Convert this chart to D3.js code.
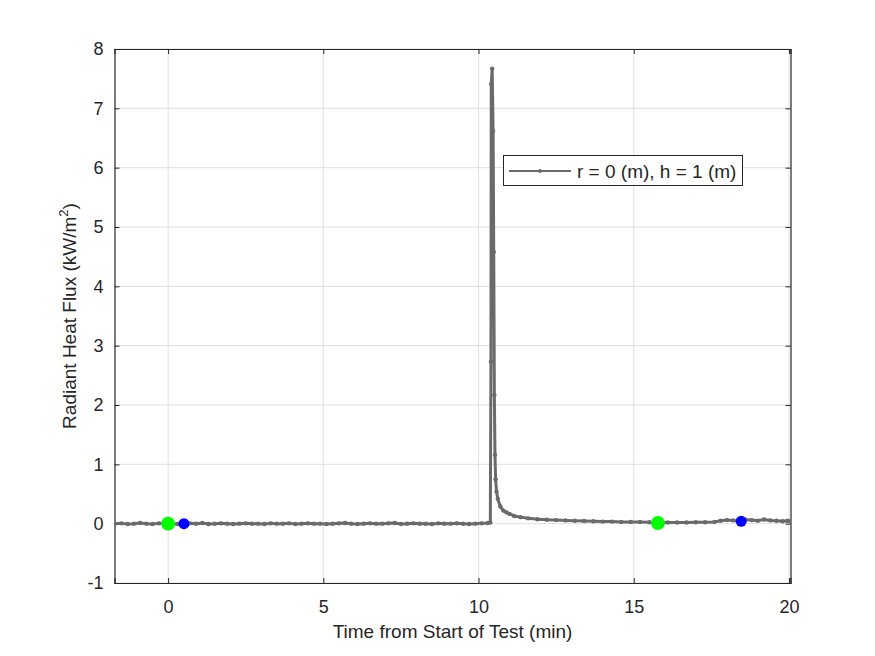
<!DOCTYPE html>
<html><head><meta charset="utf-8">
<script src="https://cdn.jsdelivr.net/npm/d3@7"></script>
<style>body{margin:0;background:#fff}svg{display:block}text{font-family:"Liberation Sans",Arial,Helvetica,sans-serif;fill:#262626}</style>
</head><body>
<svg id="c" width="875" height="656"></svg>
<script>
// Time (min) and radiant heat flux (kW/m^2)
const times = [-1.72,-1.5,-1.3,-1.1,-0.9,-0.7,-0.5,-0.3,-0.1,0.1,0.3,0.5,0.7,0.9,1.1,1.3,1.5,1.7,1.9,2.1,2.3,2.5,2.7,2.9,3.1,3.3,3.5,3.7,3.9,4.1,4.3,4.5,4.7,4.9,5.1,5.3,5.5,5.7,5.9,6.1,6.3,6.5,6.7,6.9,7.1,7.3,7.5,7.7,7.9,8.1,8.3,8.5,8.7,8.9,9.1,9.3,9.5,9.7,9.9,10.1,10.3,10.38,
10.40,10.41,10.44,10.47,10.49,10.51,10.53,10.55,10.58,10.62,10.70,10.80,10.90,11.00,11.15,11.35,11.6,11.9,12.2,12.5,12.8,13.1,13.4,13.7,14.0,14.3,14.6,14.9,15.2,15.5,15.8,16.1,16.4,16.7,17.0,17.3,17.6,17.8,18.0,18.2,18.4,18.6,18.8,19.0,19.2,19.4,19.6,19.8,19.95,20.05];
const flux = [0.00,0.005,-0.005,0.00,0.01,0.00,-0.005,0.005,0.00,0.00,-0.005,0.00,0.005,0.00,0.01,-0.005,0.00,0.005,0.00,-0.005,0.00,0.005,0.00,0.00,-0.005,0.005,0.00,0.00,0.005,-0.005,0.00,0.005,0.00,0.00,-0.005,0.00,0.005,0.01,0.00,-0.005,0.00,0.005,0.00,0.00,0.005,0.01,-0.005,0.00,0.005,0.00,0.00,-0.005,0.005,0.00,0.00,0.005,0.00,-0.005,0.00,0.005,0.01,0.02,
2.73,7.41,7.67,6.62,4.58,2.17,1.16,0.75,0.54,0.42,0.29,0.22,0.19,0.165,0.13,0.11,0.09,0.075,0.065,0.06,0.055,0.05,0.045,0.04,0.035,0.035,0.03,0.03,0.03,0.025,0.02,0.02,0.02,0.02,0.025,0.025,0.03,0.05,0.06,0.055,0.05,0.065,0.06,0.05,0.07,0.055,0.05,0.04,0.05,0.04];
const events = [{t:0, v:0, c:"#00ff00", r:7},{t:0.51, v:0, c:"#0000ff", r:5.5},{t:15.78, v:0.01, c:"#00ff00", r:7},{t:18.46, v:0.04, c:"#0000ff", r:5.5}];
const xTicks = [0,5,10,15,20];
const yTicks = [-1,0,1,2,3,4,5,6,7,8];
const legendLabel = "r = 0 (m), h = 1 (m)";

const svg = d3.select("#c");
const L=114.5, R=790.5, T=49, B=583;
const x = d3.scaleLinear().domain([-1.727,20.05]).range([L,R]);
const y = d3.scaleLinear().domain([-1,8]).range([B,T]);

svg.append("rect").attr("x",L).attr("y",T).attr("width",R-L).attr("height",B-T).attr("fill","#fff");
// grid
const g = svg.append("g");
g.selectAll(".gx").data(xTicks).join("line").attr("x1",d=>x(d)).attr("x2",d=>x(d)).attr("y1",T).attr("y2",B).attr("stroke","#dfdfdf").attr("stroke-width",1);
g.selectAll(".gy").data(yTicks).join("line").attr("y1",d=>y(d)).attr("y2",d=>y(d)).attr("x1",L).attr("x2",R).attr("stroke","#dfdfdf").attr("stroke-width",1);

// axes
const fmt = d => String(d);
const ax = svg.append("g").attr("transform",`translate(0,${B})`).call(d3.axisBottom(x).tickValues(xTicks).tickSize(-5).tickPadding(17).tickFormat(fmt));
const ay = svg.append("g").attr("transform",`translate(${L},0)`).call(d3.axisLeft(y).tickValues(yTicks).tickSize(-5).tickPadding(11).tickFormat(fmt));
const at = svg.append("g").attr("transform",`translate(0,${T})`).call(d3.axisTop(x).tickValues(xTicks).tickSize(-5).tickFormat(""));
const ar = svg.append("g").attr("transform",`translate(${R},0)`).call(d3.axisRight(y).tickValues(yTicks).tickSize(-5).tickFormat(""));
[ax,ay,at,ar].forEach(a=>{a.select(".domain").attr("stroke","#262626").attr("stroke-width",1.2);a.selectAll(".tick line").attr("stroke","#262626");a.selectAll("text").style("font-size","18px").attr("fill","#262626");});

// data line
const clip = svg.append("clipPath").attr("id","cp").append("rect").attr("x",L).attr("y",T).attr("width",R-L).attr("height",B-T);
const pts = times.map((t,i)=>[t,flux[i]]);
const line = d3.line().x(d=>x(d[0])).y(d=>y(d[1]));
const dg = svg.append("g").attr("clip-path","url(#cp)");
dg.append("path").datum(pts).attr("d",line).attr("fill","none").attr("stroke","#6a6a6a").attr("stroke-width",3).attr("stroke-linejoin","round");
dg.selectAll(".m").data(pts).join("circle").attr("cx",d=>x(d[0])).attr("cy",d=>y(d[1])).attr("r",2.2).attr("fill","#6a6a6a");
dg.selectAll(".ev").data(events).join("circle").attr("cx",d=>x(d.t)).attr("cy",d=>y(d.v)).attr("r",d=>d.r).attr("fill",d=>d.c);

// labels
svg.append("text").attr("x",(L+R)/2).attr("y",638).attr("text-anchor","middle").style("font-size","19px").text("Time from Start of Test (min)");
const yl = svg.append("text").attr("transform",`translate(76,${(T+B)/2}) rotate(-90)`).attr("text-anchor","middle").style("font-size","19px");
yl.append("tspan").text("Radiant Heat Flux (kW/m");
yl.append("tspan").attr("dy",-8).style("font-size","13px").text("2");
yl.append("tspan").attr("dy",8).text(")");

// legend
const lg = svg.append("g");
lg.append("rect").attr("x",503.5).attr("y",155.5).attr("width",239).attr("height",30).attr("fill","#fff").attr("stroke","#262626").attr("stroke-width",1);
lg.append("line").attr("x1",509).attr("x2",571).attr("y1",171).attr("y2",171).attr("stroke","#6a6a6a").attr("stroke-width",2);
lg.append("circle").attr("cx",540).attr("cy",171).attr("r",2).attr("fill","#6a6a6a");
lg.append("text").attr("x",577).attr("y",177.5).style("font-size","19px").text(legendLabel);
</script>
</body></html>
